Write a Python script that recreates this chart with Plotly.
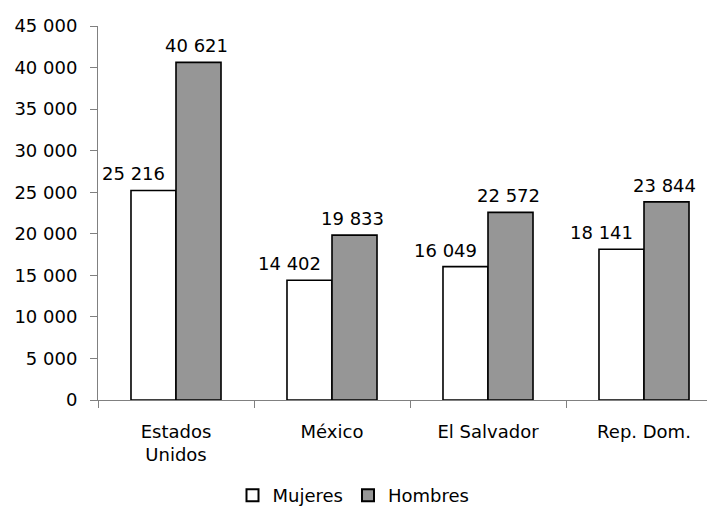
import plotly.graph_objects as go

categories = ["Estados<br>Unidos", "México", "El Salvador", "Rep. Dom."]
mujeres = [25216, 14402, 16049, 18141]
hombres = [40621, 19833, 22572, 23844]
y_ticks = [0, 5000, 10000, 15000, 20000, 25000, 30000, 35000, 40000, 45000]

FONT = "DejaVu Sans"
FS = 18


def fmt(v):
    return f"{v:,}".replace(",", " ")


fig = go.Figure()
fig.add_trace(go.Bar(name="Mujeres", x=categories, y=mujeres,
                     marker=dict(color="white", line=dict(color="black", width=1.6))))
fig.add_trace(go.Bar(name="Hombres", x=categories, y=hombres,
                     marker=dict(color="#969696", line=dict(color="black", width=1.6))))

for c, v in zip(categories, mujeres):
    fig.add_annotation(x=c, y=v, text=fmt(v), showarrow=False, xref="x", yref="y",
                       xanchor="center", yanchor="bottom", xshift=-43, yshift=4,
                       font=dict(family=FONT, size=FS, color="black"))
for c, v in zip(categories, hombres):
    fig.add_annotation(x=c, y=v, text=fmt(v), showarrow=False, xref="x", yref="y",
                       xanchor="center", yanchor="bottom", xshift=20, yshift=4,
                       font=dict(family=FONT, size=FS, color="black"))

W, H = 707, 514
L, R, T, B = 98, 0, 26, 114
cat_px = 156
span = (W - L - R) / cat_px

fig.update_layout(
    template="none",
    width=W, height=H,
    margin=dict(l=L, r=R, t=T, b=B, pad=0),
    paper_bgcolor="white", plot_bgcolor="white",
    barmode="group", bargap=0.423, bargroupgap=0,
    separators=", ",
    font=dict(family=FONT, size=FS, color="black"),
    showlegend=True,
    legend=dict(orientation="h", xref="container", yref="container",
                x=0.5, xanchor="center", y=-0.008, yanchor="bottom",
                font=dict(family=FONT, size=FS, color="black"),
                itemsizing="constant", traceorder="normal",
                bgcolor="rgba(0,0,0,0)"),
    xaxis=dict(type="category", range=[-0.5, -0.5 + span], automargin=False,
               showline=True, linecolor="#808080", linewidth=1,
               ticks="outside", tickson="boundaries", ticklen=7, tickcolor="#808080",
               showgrid=False, zeroline=False, ticklabelstandoff=15,
               tickfont=dict(family=FONT, size=FS, color="black")),
    yaxis=dict(range=[0, 45000], tickvals=y_ticks, tickformat=",d", automargin=False,
               showline=True, linecolor="#808080", linewidth=1,
               ticks="outside", ticklen=7, tickcolor="#808080",
               showgrid=False, zeroline=False, ticklabelstandoff=9,
               tickfont=dict(family=FONT, size=FS, color="black")),
)

fig.write_html(
    "out.html",
    config={"displayModeBar": False},
    post_script="document.body.style.margin='0';document.documentElement.style.overflow='hidden';",
)
